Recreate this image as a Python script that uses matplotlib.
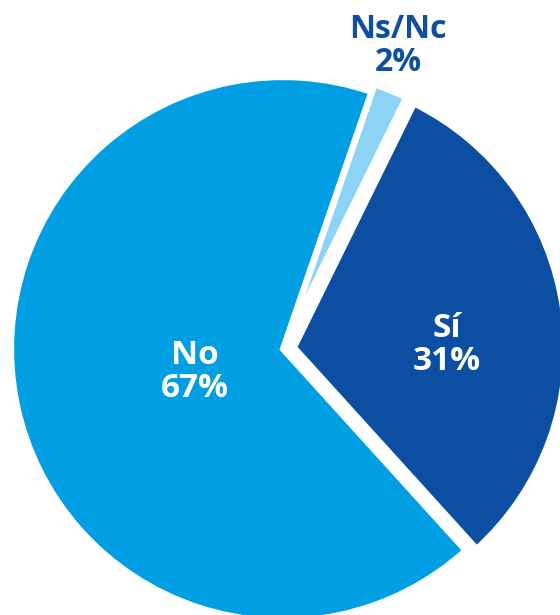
import matplotlib
matplotlib.use("Agg")
import matplotlib.pyplot as plt

labels = ["Ns/Nc", "Sí", "No"]
values = [2, 31, 67]
colors = ["#8DD3F5", "#0B4EA2", "#009FE3"]
explode = [8, 11, 0]  # offsets in pixels (data units)

W, H = 560, 615
fig = plt.figure(figsize=(W / 100, H / 100), dpi=100)
ax = fig.add_axes([0, 0, 1, 1])

cx, cy, r = 283, H - 349, 272
wedges, _ = ax.pie(values, colors=colors, explode=explode, startangle=71,
                   counterclock=False, center=(cx, cy), radius=r,
                   wedgeprops=dict(edgecolor="white", linewidth=4.5))
ax.set_xlim(0, W)
ax.set_ylim(0, H)
ax.set_aspect("equal")
ax.axis("off")

font = ["Open Sans", "DejaVu Sans"]
ax.text(195, H - 372, f"{labels[2]}\n{values[2]}%", color="white", fontsize=24,
        fontweight="bold", ha="center", va="center", family=font, linespacing=1.0)
ax.text(447, H - 345, f"{labels[1]}\n{values[1]}%", color="white", fontsize=24,
        fontweight="bold", ha="center", va="center", family=font, linespacing=1.0)
ax.text(398, H - 46, f"{labels[0]}\n{values[0]}%", color="#0D4FA0", fontsize=23,
        fontweight="bold", ha="center", va="center", family=font, linespacing=1.0)

fig.savefig("out.png", dpi=100)
